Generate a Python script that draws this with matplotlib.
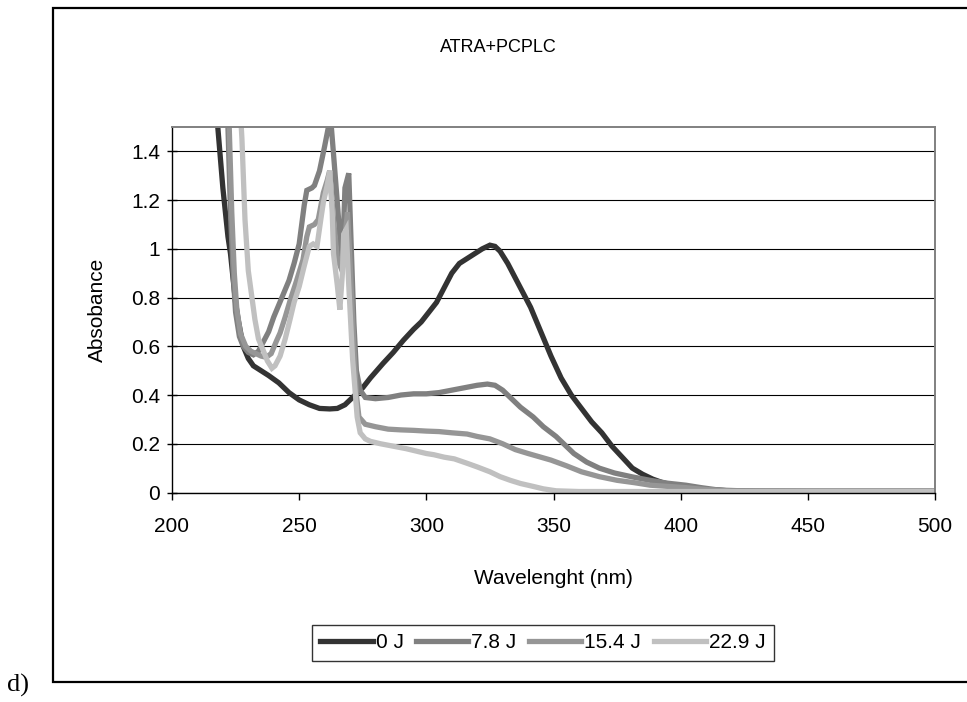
import matplotlib
matplotlib.use("Agg")
import matplotlib.pyplot as plt
from matplotlib import font_manager
from matplotlib.lines import Line2D

# Absorbance spectra of ATRA+PCPLC after different irradiation doses
wl_0J = [215, 218, 220, 222, 223, 224, 225, 226, 228, 230, 232, 235, 238, 242, 246,
         250, 254, 258, 262, 265, 268, 270, 273, 275, 278, 283, 287, 291, 295, 298,
         301, 304, 307, 310, 313, 316, 319, 322, 325, 327, 329, 332, 335, 338, 341,
         345, 349, 353, 357, 361, 365, 369, 373, 377, 381, 385, 389, 393, 397, 401,
         405, 410, 415, 420, 450, 500]
abs_0J = [1.9, 1.5, 1.25, 1.05, 0.98, 0.88, 0.78, 0.71, 0.6, 0.55, 0.52, 0.5, 0.48, 0.45, 0.41,
          0.38, 0.36, 0.345, 0.343, 0.345, 0.36, 0.38, 0.41, 0.43, 0.47, 0.53, 0.575, 0.625, 0.67, 0.7,
          0.74, 0.78, 0.84, 0.9, 0.94, 0.96, 0.98, 1.0, 1.015, 1.01, 0.99, 0.94, 0.88, 0.82, 0.76,
          0.66, 0.56, 0.47, 0.4, 0.345, 0.29, 0.245, 0.19, 0.145, 0.1, 0.075, 0.055, 0.04, 0.03, 0.022,
          0.015, 0.012, 0.01, 0.006, 0.005, 0.005]

wl_78J = [218, 222, 223, 224, 225, 226.5, 228, 230, 232, 234, 236, 238, 240, 242, 244,
          246, 248, 250, 252, 253, 255, 256, 258, 260, 261.5, 262.5, 263.5, 265, 266, 267,
          268, 269.5, 270.5, 271.5, 272.5, 274, 276, 280, 285, 290, 295, 300, 305, 310, 315,
          320, 324, 327, 330, 333, 337, 342, 346, 351, 355, 358, 363, 368, 374, 381,
          388, 395, 402, 408, 415, 430, 500]
abs_78J = [2.5, 1.5, 1.15, 0.9, 0.74, 0.64, 0.6, 0.575, 0.565, 0.58, 0.62, 0.66, 0.72, 0.77, 0.82,
           0.87, 0.94, 1.02, 1.18, 1.24, 1.25, 1.26, 1.32, 1.42, 1.5, 1.52, 1.39, 1.19, 1.05, 0.94,
           1.25, 1.31, 1.0, 0.7, 0.5, 0.42, 0.39, 0.385, 0.39, 0.4, 0.405, 0.405, 0.41, 0.42, 0.43,
           0.44, 0.445, 0.44, 0.42, 0.39, 0.35, 0.31, 0.27, 0.23, 0.19, 0.16, 0.125, 0.1, 0.08, 0.064,
           0.05, 0.038, 0.03, 0.02, 0.01, 0.005, 0.005]

wl_154J = [218, 222.5, 223.5, 224.5, 225.5, 227, 229, 231, 233, 235, 237, 239, 241, 242.5, 244.5,
           246.5, 249, 251.5, 253, 254, 256, 257.5, 259.5, 261, 262, 263.5, 265, 266.5, 268, 269,
           270, 271.5, 272.5, 273.5, 276, 280, 285, 290, 295, 300, 305, 310, 316, 320, 325,
           330, 335, 340, 345, 349, 355, 361, 368, 375, 382, 388, 395, 402, 410, 420, 500]
abs_154J = [2.4, 1.5, 1.15, 0.9, 0.75, 0.65, 0.6, 0.58, 0.57, 0.56, 0.555, 0.57, 0.62, 0.655, 0.72,
            0.79, 0.87, 0.955, 1.05, 1.09, 1.1, 1.12, 1.23, 1.28, 1.32, 1.12, 0.96, 0.92, 1.05, 1.15,
            0.95, 0.6, 0.4, 0.31, 0.28, 0.27, 0.26, 0.257, 0.255, 0.252, 0.25, 0.245, 0.24, 0.23, 0.22,
            0.2, 0.176, 0.16, 0.145, 0.133, 0.11, 0.085, 0.065, 0.05, 0.04, 0.03, 0.025, 0.02, 0.012, 0.006, 0.005]

wl_229J = [222, 227.5, 228.7, 230, 232.6, 234, 235.8, 237.5, 239.3, 240.5, 242.5, 244.5, 246.4, 248, 250,
           252, 254, 255.5, 257, 258.5, 259.5, 261, 262, 263, 263.5, 265, 266, 267, 267.5, 268.5,
           269.5, 271, 272.8, 274, 276, 278, 282, 287, 292, 296, 300, 303, 307, 311, 316,
           320, 325, 329, 333, 337, 342, 346, 351, 360, 500]
abs_229J = [2.5, 1.45, 1.12, 0.91, 0.71, 0.63, 0.585, 0.54, 0.51, 0.52, 0.56, 0.63, 0.71, 0.78, 0.845,
            0.93, 1.01, 1.02, 1.01, 1.12, 1.19, 1.26, 1.32, 1.15, 0.98, 0.85, 0.75, 0.9, 1.06, 1.08,
            0.85, 0.55, 0.31, 0.245, 0.22, 0.21, 0.2, 0.19, 0.18, 0.17, 0.16, 0.155, 0.145, 0.138, 0.12,
            0.105, 0.085, 0.065, 0.05, 0.037, 0.025, 0.015, 0.007, 0.004, 0.004]

series_labels = ["0 J", "7.8 J", "15.4 J", "22.9 J"]
series_colors = ["#333333", "#808080", "#969696", "#c0c0c0"]

x_ticks = [200, 250, 300, 350, 400, 450, 500]
y_ticks = [0, 0.2, 0.4, 0.6, 0.8, 1.0, 1.2, 1.4]
y_tick_labels = ["0", "0.2", "0.4", "0.6", "0.8", "1", "1.2", "1.4"]

installed = {f.name for f in font_manager.fontManager.ttflist}
base_font = "Liberation Sans" if "Liberation Sans" in installed else "DejaVu Sans"
narrow_font = "Liberation Sans Narrow" if "Liberation Sans Narrow" in installed else base_font
serif_font = "Liberation Serif" if "Liberation Serif" in installed else "DejaVu Serif"
plt.rcParams["font.family"] = [base_font, "DejaVu Sans"]

W, H = 967, 702
fig = plt.figure(figsize=(W / 100, H / 100), dpi=100)
fig.patch.set_facecolor("white")

def fx(px):
    return px / W

def fy(py):
    return 1 - py / H

# outer frame of the chart object (its right side runs past the image edge)
frame_x = [fx(975), fx(53), fx(53), fx(975)]
frame_y = [fy(8), fy(8), fy(682), fy(682)]
fig.add_artist(Line2D(frame_x, frame_y, transform=fig.transFigure, color="black",
                      linewidth=1.6, solid_joinstyle="miter"))
fig.text(fx(7), fy(692), "d)", fontsize=19, family=serif_font, ha="left", va="baseline")

ax = fig.add_axes([fx(172), fy(492.5), fx(935) - fx(172), fy(127) - fy(492.5)])

data = [(wl_0J, abs_0J), (wl_78J, abs_78J), (wl_154J, abs_154J), (wl_229J, abs_229J)]
for (wl, ab), lab, col in zip(data, series_labels, series_colors):
    ax.plot(wl, ab, color=col, linewidth=3.8, label=lab, solid_joinstyle="miter")

ax.set_xlim(200, 500)
ax.set_ylim(0, 1.5)
ax.set_xticks(x_ticks)
ax.set_xticklabels([str(v) for v in x_ticks])
ax.set_yticks(y_ticks)
ax.set_yticklabels(y_tick_labels)
ax.yaxis.grid(True, color="black", linewidth=0.8)
ax.set_axisbelow(True)

for side in ("top", "right"):
    ax.spines[side].set_color("#808080")
    ax.spines[side].set_linewidth(1.4)
for side in ("left", "bottom"):
    ax.spines[side].set_color("black")
    ax.spines[side].set_linewidth(1.0)

ax.tick_params(axis="x", direction="out", length=5, width=1, pad=13, labelsize=15)
ax.tick_params(axis="y", direction="inout", length=7, width=1, pad=5, labelsize=15)

fig.text(fx(553), fy(578), "Wavelenght (nm)", fontsize=15, ha="center", va="center")
fig.text(fx(97), fy(310), "Absobance", fontsize=15, ha="center", va="center", rotation=90)
fig.text(fx(498), fy(47), "ATRA+PCPLC", fontsize=13, family=narrow_font,
         ha="center", va="center")

leg = fig.legend(loc="center", bbox_to_anchor=(fx(543), fy(643)), ncol=4, fontsize=15,
                 frameon=True, fancybox=False, edgecolor="black", handlelength=2.5,
                 handletextpad=0.15, columnspacing=0.6, borderpad=0.4,
                 borderaxespad=0)
leg.get_frame().set_linewidth(1.0)

fig.savefig("out.png", dpi=100, facecolor="white")
